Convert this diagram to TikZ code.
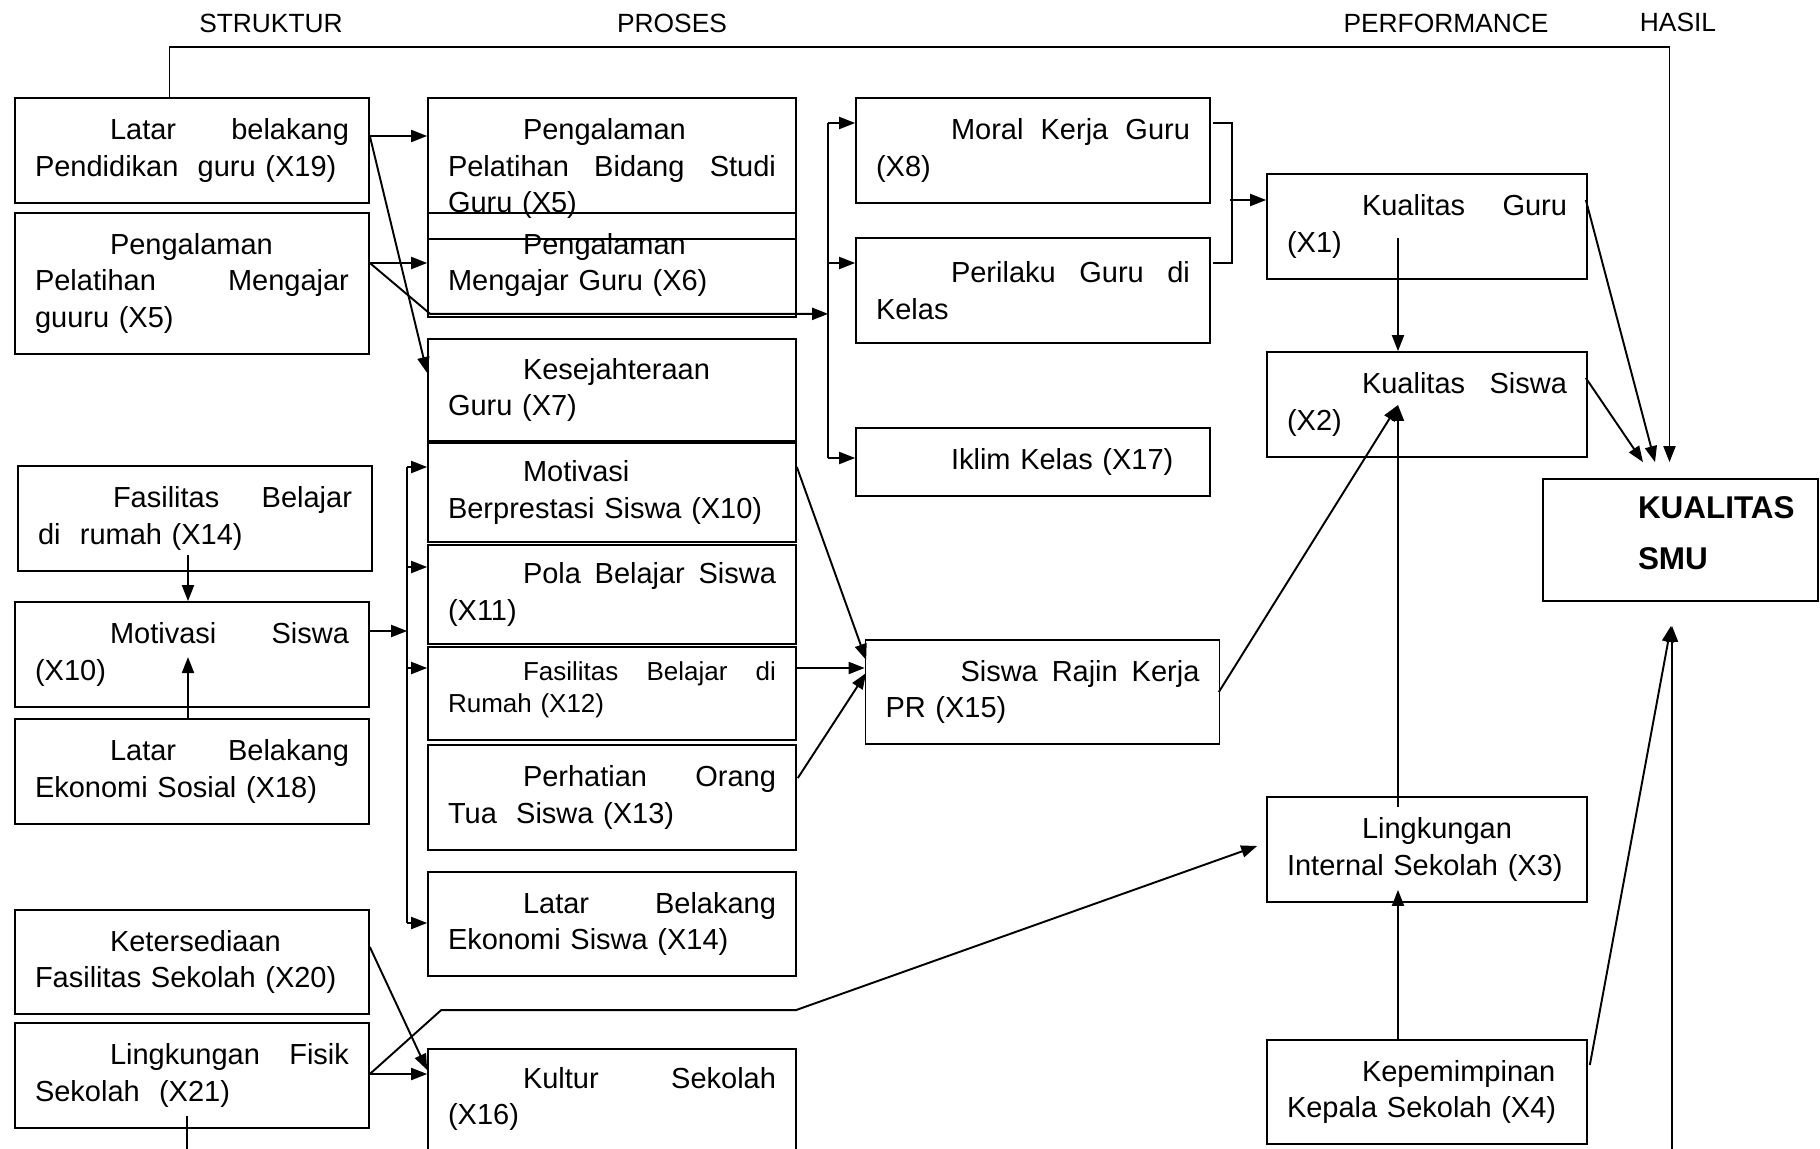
\documentclass[tikz,border=0pt]{standalone}
\usepackage{fontspec}
\setmainfont{Liberation Sans}
\usetikzlibrary{arrows.meta,calc}
\setlength{\parindent}{0pt}
\hyphenpenalty=10000
\newcommand{\firstind}{\hspace*{1.5cm}}

\begin{document}
\begin{tikzpicture}[x=0.02cm, y=-0.02cm,
  box/.style={draw, line width=1pt, inner xsep=0.4cm, inner ysep=0pt, align=left,
    font=\fontsize{16.5}{21}\selectfont},
  colA/.style={minimum width=7.08cm, text width=6.28cm},
  colB/.style={minimum width=7.36cm, text width=6.56cm},
  colC/.style={minimum width=6.4cm, text width=5.6cm},
  head/.style={font=\fontsize{15}{18}\selectfont},
  arr/.style={line width=1.1pt, -{Triangle[length=0.32cm,width=0.24cm]}},
  lin/.style={line width=1.1pt}]
  \useasboundingbox (0,0) rectangle (1820,1149);
  \clip (0,0) rectangle (1820,1149);
  % column heads
  \node[head] (hstruktur) at (271,23) {STRUKTUR};
  \node[head] (hproses) at (672,23) {PROSES};
  \node[head] (hperform) at (1446,23) {PERFORMANCE};
  \node[head] (hhasil) at (1678,22) {HASIL};
  % struktur
  \node[box, colA, minimum height=2.1cm] (b19) at (192,150.5)
    {\firstind Latar\hfill belakang\\ Pendidikan\ \ guru (X19)};
  \node[box, colA, minimum height=2.82cm] (b5) at (192,283.5)
    {\firstind Pengalaman\\ Pelatihan\hfill Mengajar\\ guuru (X5)};
  \node[box, colA, minimum height=2.1cm] (b14) at (195,518.5)
    {\firstind Fasilitas\hfill Belajar\\ di\ \ rumah (X14)};
  \node[box, colA, minimum height=2.1cm] (b10) at (192,654.5)
    {\firstind Motivasi\hfill Siswa\\ (X10)};
  \node[box, colA, minimum height=2.1cm] (b18) at (192,771.5)
    {\firstind Latar\hfill Belakang\\ Ekonomi Sosial (X18)};
  \node[box, colA, minimum height=2.08cm] (b20) at (192,962)
    {\firstind Ketersediaan\\ Fasilitas Sekolah (X20)};
  \node[box, colA, minimum height=2.1cm] (b21) at (192,1075.5)
    {\firstind Lingkungan\hfill Fisik\\ Sekolah\ \ (X21)};
  % proses
  \node[box, colB, minimum height=2.82cm] (x5) at (612,168.5)
    {\firstind Pengalaman\\ Pelatihan\hfill Bidang\hfill Studi\\ Guru (X5)};
  \node[box, colB, minimum height=2.08cm] (x6) at (612,265)
    {\firstind Pengalaman\\ Mengajar Guru (X6)};
  \node[box, colB, minimum height=2.04cm] (x7) at (612,390)
    {\firstind Kesejahteraan\\ Guru (X7)};
  \node[box, colB, minimum height=1.98cm] (x10) at (612,492.5)
    {\firstind Motivasi\\ Berprestasi Siswa (X10)};
  \node[box, colB, minimum height=1.98cm] (x11) at (612,594.5)
    {\firstind Pola\hfill Belajar\hfill Siswa\\ (X11)};
  \node[box, colB, minimum height=1.86cm, font=\fontsize{14.8}{18.4}\selectfont] (x12) at (612,693.5)
    {\firstind Fasilitas\hfill Belajar\hfill di\\ Rumah (X12)\rule[-0.27cm]{0pt}{0.27cm}};
  \node[box, colB, minimum height=2.1cm] (x13) at (612,797.5)
    {\firstind Perhatian\hfill Orang\\ Tua\ \ Siswa (X13)};
  \node[box, colB, minimum height=2.08cm] (x14) at (612,924)
    {\firstind Latar\hfill Belakang\\ Ekonomi Siswa (X14)};
  \node[box, colB, minimum height=2.12cm] (x16) at (612,1102)
    {\firstind Kultur\hfill Sekolah\\ (X16)\rule[-0.24cm]{0pt}{0.24cm}};
  \node[box, colA, minimum height=2.1cm] (x8) at (1033,150.5)
    {\firstind Moral\hfill Kerja\hfill Guru\\ (X8)};
  \node[box, colA, minimum height=2.1cm] (x9) at (1033,290.5)
    {\firstind Perilaku\hfill Guru\hfill di\\ Kelas};
  \node[box, colA, minimum height=1.36cm] (x17) at (1033,462)
    {\firstind Iklim Kelas (X17)};
  \node[box, colA, minimum height=2.08cm] (x15) at (1042.5,692)
    {\firstind Siswa\hfill Rajin\hfill Kerja\\ PR (X15)};
  % performance
  \node[box, colC, minimum height=2.1cm] (x1) at (1427,226.5)
    {\firstind Kualitas\hfill Guru\\ (X1)};
  \node[box, colC, minimum height=2.1cm] (x2) at (1427,404.5)
    {\firstind Kualitas\hfill Siswa\\ (X2)};
  \node[box, colC, minimum height=2.1cm] (x3) at (1427,849.5)
    {\firstind Lingkungan\\ Internal Sekolah (X3)};
  \node[box, colC, minimum height=2.08cm] (x4) at (1427,1092)
    {\firstind Kepemimpinan\\ Kepala Sekolah (X4)};
  % hasil
  \node[box, minimum width=5.5cm, text width=4.7cm, minimum height=2.44cm,
    font=\fontsize{17.9}{29}\selectfont\bfseries] (kual) at (1680.5,540)
    {\firstind\mbox{KUALITAS}\\ \firstind SMU\rule[-0.28cm]{0pt}{0.28cm}};

  % helper points
  \coordinate (p19) at ($(b19.east)+(0,-14.5)$);
  \coordinate (p5) at ($(b5.east)+(0,-20.5)$);
  \coordinate (k6) at ($(x6.south west)+(3,-4)$);
  \coordinate (bustop) at ($(x8.west)+(-27,-27.5)$);
  \coordinate (busbot) at ($(x17.west)+(-27,-4)$);
  \coordinate (br) at ($(x1.west)+(-36,-26.5)$);
  \coordinate (p10) at ($(b10.east)+(0,-23.5)$);
  \coordinate (bus1top) at ($(x10.west)+(-20,-25.5)$);
  \coordinate (bus1bot) at ($(x14.west)+(-20,-1)$);
  \coordinate (p12) at ($(x12.east)+(0,-25.5)$);
  \coordinate (p21) at ($(b21.east)+(0,-1.5)$);
  \coordinate (hbot) at (1672,1165);
  \coordinate (bbot) at (187,1165);

  % top line to hasil
  \draw[arr] ($(b19.north)+(-22.5,0)$) -- ++(0,-50.3) -| ($(kual.north)+(-11,-16)$);
  % struktur -> proses
  \draw[arr] (p19) -- (p19 -| x5.west);
  \draw[arr] (p19) -- ($(x7.west)+(0,-17)$);
  \draw[arr] (p5) -- (p5 -| x6.west);
  \draw[arr] (p5) -- (k6) -- (k6 -| bustop);
  % bus to moral, perilaku, iklim
  \draw[lin] (bustop) -- (busbot);
  \draw[arr] (bustop) -- (bustop -| x8.west);
  \draw[arr] ($(x9.west)+(-27,-27.5)$) -- ($(x9.west)+(0,-27.5)$);
  \draw[arr] (busbot) -- (busbot -| x17.west);
  \draw[lin] ($(x8.east)+(2,-27.5)$) -| ($(x9.east)+(21,-27.5)$) -- ($(x9.east)+(2,-27.5)$);
  \draw[arr] (br) -- ($(x1.west)+(0,-26.5)$);
  % performance
  \draw[arr] ($(x1.center)+(-29,11.5)$) -- ($(x2.north)+(-29,0)$);
  \draw[arr] ($(x1.east)+(-2,-26.5)$) -- ($(kual.north)+(-25.5,-16)$);
  \draw[arr] ($(x2.east)+(-2,-26.5)$) -- ($(kual.north)+(-37.5,-16)$);
  % student side
  \draw[arr] ($(b14.center)+(-7,36.5)$) -- ($(b10.north)+(-4,0)$);
  \draw[arr] ($(b18.north)+(-4,0)$) -- ($(b10.center)+(-4,2.5)$);
  \draw[arr] (p10) -- (p10 -| bus1top);
  \draw[lin] (bus1top) -- (bus1bot);
  \draw[arr] (bus1top) -- (bus1top -| x10.west);
  \draw[arr] ($(x11.west)+(-20,-27.5)$) -- ($(x11.west)+(0,-27.5)$);
  \draw[arr] ($(x12.west)+(-20,-25.5)$) -- ($(x12.west)+(0,-25.5)$);
  \draw[arr] (bus1bot) -- (bus1bot -| x14.west);
  \draw[arr] ($(x10.east)+(0,-25.5)$) -- ($(x15.west)+(1.5,-32)$);
  \draw[arr] (p12) -- (p12 -| x15.west);
  \draw[arr] ($(x13.east)+(1,-19.5)$) -- ($(x15.west)+(1.5,-19)$);
  \draw[arr] ($(x15.east)+(-1.5,0)$) -- ($(x2.center)+(-29,0.5)$);
  % school side
  \draw[arr] ($(x3.north)+(-29,11)$) -- ($(x2.center)+(-29,0.5)$);
  \draw[arr] ($(x4.north)+(-29,0)$) -- ($(x3.south)+(-29,-13)$);
  \draw[arr] ($(x4.east)+(2,-27)$) -- ($(kual.south)+(-9.5,24)$);
  \draw[arr] (hbot) -- ($(kual.south)+(-8.5,24)$);
  \draw[arr] ($(b20.east)+(0,-15)$) -- ($(x16.west)+(0,-32)$);
  \draw[arr] (p21) -- (p21 -| x16.west);
  \draw[arr] (p21) -- ($(x16.north west)+(14,-38)$) -- ($(x16.north east)+(-1,-38)$)
    -- ($(x3.west)+(-9,-3.5)$);
  \draw[lin] ($(b21.center)+(-5,40.5)$) -- (bbot);
\end{tikzpicture}
\end{document}
